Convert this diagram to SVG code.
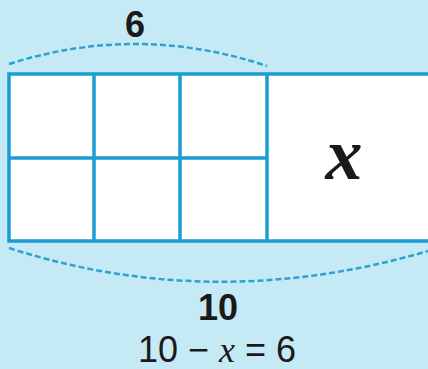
<svg xmlns="http://www.w3.org/2000/svg" width="428" height="369" viewBox="0 0 428 369">
<style>
.ln{stroke:#1b9cd3;stroke-width:3.5;fill:none}
.box{stroke:#1b9cd3;stroke-width:3.5;fill:#ffffff}
.arc{stroke:#2aa3d4;stroke-width:2.5;fill:none;stroke-dasharray:6 3}
.lab{font-family:"Liberation Sans",Arial,sans-serif;font-weight:bold;font-size:36px;fill:#1a1a1a;text-anchor:middle}
.eq{font-family:"Liberation Sans",Arial,sans-serif;font-size:36px;fill:#1a1a1a;text-anchor:middle}
.var{font-family:"Liberation Serif","Times New Roman",serif;font-style:italic}
</style>
<rect width="428" height="369" fill="#c6e9f6"/>
<g id="bar">
<rect x="9" y="74" width="425" height="167" class="box"/>
<line x1="94" y1="74" x2="94" y2="241" class="ln"/>
<line x1="180" y1="74" x2="180" y2="241" class="ln"/>
<line x1="267" y1="74" x2="267" y2="241" class="ln"/>
<line x1="9" y1="158" x2="267" y2="158" class="ln"/>
<text x="344" y="179" font-family="Liberation Serif,serif" font-style="italic" font-weight="bold" font-size="74" fill="#1a1a1a" text-anchor="middle">x</text>
</g>
<g id="connectors">
<path class="arc" d="M9,64 Q138,23 267,66"/>
<path class="arc" d="M9,248 Q214,314 428,251"/>
</g>
<g id="labels">
<text x="135" y="37" class="lab" transform="translate(0,37) scale(1,1.0) translate(0,-37)">6</text>
<text x="218" y="320" class="lab">10</text>
<text x="217" y="362" class="eq">10 − <tspan class="var">x</tspan> = 6</text>
</g>
</svg>
